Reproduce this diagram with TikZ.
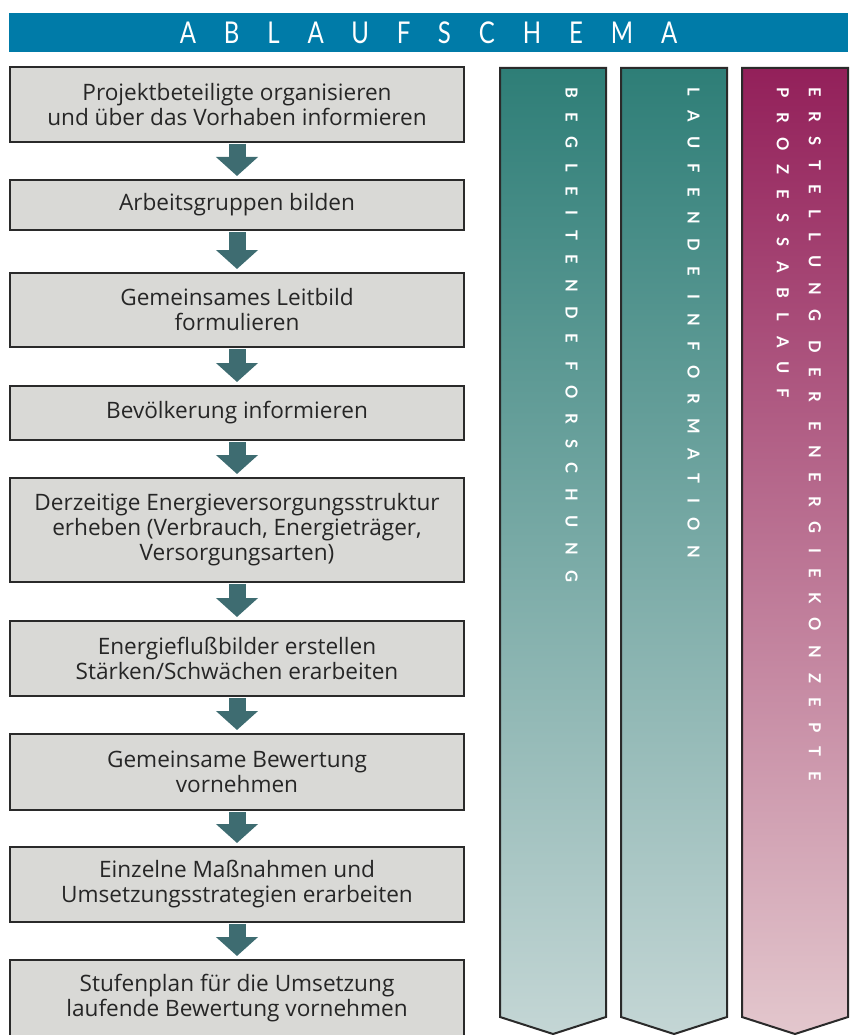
\documentclass[tikz,border=0pt]{standalone}
\usepackage{fontspec}
\setmainfont{Lato}
\newfontfamily\headfont[FakeStretch=0.8,LetterSpace=93]{Lato}
\newfontfamily\bandfont[LetterSpace=89]{Lato}
\newfontfamily\boxfont{Open Sans}
\usepackage{tikz}
\usetikzlibrary{arrows.meta}

\definecolor{headblue}{RGB}{0,123,168}
\definecolor{boxgray}{RGB}{217,217,214}
\definecolor{linegray}{RGB}{42,42,42}
\definecolor{arrowteal}{RGB}{62,108,113}
\definecolor{tealtop}{RGB}{46,126,119}
\definecolor{tealbot}{RGB}{196,214,213}
\definecolor{redtop}{RGB}{147,32,90}
\definecolor{redbot}{RGB}{227,199,205}

\begin{document}
\begin{tikzpicture}[x=1pt,y=-1pt]
\tikzset{header/.style = {fill=headblue,text=white,minimum width=839pt,minimum height=39pt,inner sep=0pt,font=\headfont\fontsize{30pt}{30pt}\selectfont}}
\tikzset{stepbox/.style = {shape=rectangle,draw=linegray,line width=2pt,fill=boxgray,minimum width=454pt,inner sep=0pt,align=center,text=black!85,font=\boxfont\fontsize{22.6pt}{25pt}\selectfont}}
\tikzset{flow/.style = {draw=arrowteal,line width=17pt,-{Triangle[width=41pt,length=19pt]},shorten <=1pt,shorten >=3pt}}
\tikzset{band/.style = {draw=linegray,line width=2pt}}
\tikzset{bandtext/.style = {text=white,rotate=-90,anchor=north west,inner sep=0pt,align=left,font=\bandfont\bfseries\fontsize{16.5pt}{32pt}\selectfont}}
\useasboundingbox (0,0) rectangle (857,1035);
% header
\node[header] (head) at (428.5,32.5) {ABLAUFSCHEMA};
% columns
\shadedraw[band,top color=tealtop,bottom color=tealbot] (500,68) -- (606,68) -- (606,1017) -- (553,1034) -- (500,1017) -- cycle;
\shadedraw[band,top color=tealtop,bottom color=tealbot] (621,68) -- (727,68) -- (727,1017) -- (674,1034) -- (621,1017) -- cycle;
\shadedraw[band,top color=redtop,bottom color=redbot] (742,68) -- (848,68) -- (848,1017) -- (795,1034) -- (742,1017) -- cycle;
\node[bandtext] (research) at (578,87) {BEGLEITENDE FORSCHUNG};
\node[bandtext] (info) at (700,87) {LAUFENDE INFORMATION};
\node[bandtext] (concept) at (821,87) {ERSTELLUNG DER ENERGIEKONZEPTE\\PROZESSABLAUF};
% steps
\node[stepbox,minimum height=75pt] (s1) at (237,104.5) {Projektbeteiligte organisieren\\und über das Vorhaben informieren};
\node[stepbox,minimum height=50pt] (s2) at (237,205) {Arbeitsgruppen bilden};
\node[stepbox,minimum height=74pt] (s3) at (237,310) {Gemeinsames Leitbild\\formulieren};
\node[stepbox,minimum height=54pt] (s4) at (237,413) {Bevölkerung informieren};
\node[stepbox,minimum height=104pt] (s5) at (237,530) {Derzeitige Energieversorgungsstruktur\\erheben (Verbrauch, Energieträger,\\Versorgungsarten)};
\node[stepbox,minimum height=75pt] (s6) at (237,658.5) {Energieflußbilder erstellen\\Stärken/Schwächen erarbeiten};
\node[stepbox,minimum height=76pt] (s7) at (237,772) {Gemeinsame Bewertung\\vornehmen};
\node[stepbox,minimum height=75pt] (s8) at (237,884.5) {Einzelne Maßnahmen und\\Umsetzungsstrategien erarbeiten};
\node[stepbox,minimum height=77pt] (s9) at (237,998.5) {Stufenplan für die Umsetzung\\laufende Bewertung vornehmen};
% arrows
\foreach \a/\b in {s1/s2,s2/s3,s3/s4,s4/s5,s5/s6,s6/s7,s7/s8,s8/s9}
  \draw[flow] (\a) -- (\b);
\end{tikzpicture}
\end{document}
